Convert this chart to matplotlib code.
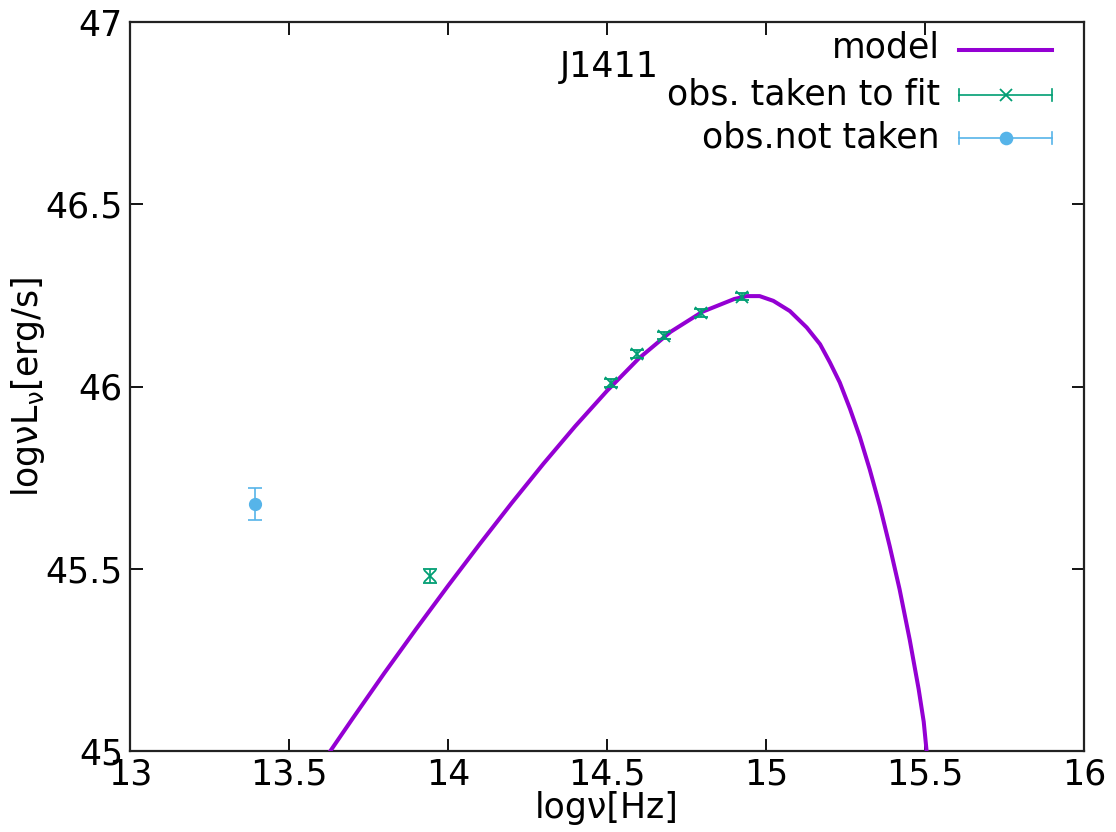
import matplotlib
matplotlib.use("Agg")
import matplotlib.pyplot as plt
from matplotlib.lines import Line2D

# Model curve
model_x = [13.63, 13.70, 13.80, 13.90, 14.00, 14.10, 14.20, 14.30, 14.40, 14.50,
           14.60, 14.70, 14.80, 14.90, 14.94, 14.98, 15.023, 15.075, 15.128, 15.170,
           15.201, 15.232, 15.264, 15.295, 15.326, 15.358, 15.389, 15.420, 15.452,
           15.480, 15.496, 15.505]
model_y = [45.000, 45.089, 45.214, 45.335, 45.453, 45.568, 45.680, 45.788, 45.891, 45.988,
           46.077, 46.150, 46.205, 46.240, 46.248, 46.248, 46.235, 46.207, 46.162, 46.116,
           46.066, 46.011, 45.939, 45.862, 45.773, 45.672, 45.562, 45.444, 45.305,
           45.170, 45.080, 45.000]

# Observations taken to fit
fit_x = [13.943, 14.513, 14.594, 14.679, 14.796, 14.925]
fit_y = [45.480, 46.010, 46.089, 46.139, 46.202, 46.246]
fit_err = [0.018, 0.010, 0.010, 0.010, 0.010, 0.010]

# Observations not taken
nt_x = [13.393]
nt_y = [45.678]
nt_err = [0.044]

purple = "#9400d3"
green = "#009e73"
blue = "#56b4e9"

plt.rcParams['font.family'] = ['DejaVu Sans']
plt.rcParams['mathtext.fontset'] = 'dejavusans'
FS = 25

fig = plt.figure(figsize=(11.16, 8.32), dpi=100)
ax = fig.add_axes([130/1116, 81/832, 954/1116, 729/832])

ax.plot(model_x, model_y, color=purple, lw=2.9, zorder=3, solid_joinstyle='round')
ax.errorbar(fit_x, fit_y, yerr=fit_err, fmt='x', color=green, ms=8, mew=1.3,
            elinewidth=1.2, capsize=5, capthick=1.2, zorder=4)
ax.errorbar(nt_x, nt_y, yerr=nt_err, fmt='o', color=blue, ms=8.5,
            elinewidth=1.2, capsize=5, capthick=1.2, zorder=4)

ax.set_xlim(13, 16)
ax.set_ylim(45, 47)
xt = [13, 13.5, 14, 14.5, 15, 15.5, 16]
yt = [45, 45.5, 46, 46.5, 47]
ax.set_xticks(xt)
ax.set_xticklabels([f"{v:g}" for v in xt])
ax.set_yticks(yt)
ax.set_yticklabels([f"{v:g}" for v in yt])
ax.tick_params(direction='in', length=9, width=1.3, top=True, right=True,
               labelsize=FS, pad=5, colors='black')
for s in ax.spines.values():
    s.set_linewidth(1.6)
    s.set_color('#222222')

ax.set_xlabel("logν[Hz]", fontsize=FS, labelpad=-1)
ax.set_ylabel(r"logνL$_\mathregular{ν}$[erg/s]", fontsize=FS, labelpad=-1)

ax.text(14.352, 46.877, "J1411", fontsize=FS, ha='left', va='center')

# manual gnuplot-style key
tr = ax.transAxes
def fx(px):
    return (px - 130) / 954
def fy(py):
    return (751 - py) / 729
rows = [("model", 48), ("obs. taken to fit", 95), ("obs.not taken", 138)]
for label, py in rows:
    ax.text(fx(940), fy(py), label, transform=tr, ha='right', va='center', fontsize=FS)
x0, x1, xm = fx(959), fx(1052), fx(1006)
ax.add_line(Line2D([x0, x1], [fy(50)] * 2, transform=tr, color=purple, lw=2.9))
for py, col, mk, ms in [(95, green, 'x', 8), (138, blue, 'o', 8.5)]:
    ax.add_line(Line2D([x0, x1], [fy(py)] * 2, transform=tr, color=col, lw=1.2))
    for xx in (x0, x1):
        ax.add_line(Line2D([xx, xx], [fy(py - 6), fy(py + 6)], transform=tr, color=col, lw=1.2))
    ax.add_line(Line2D([xm], [fy(py)], transform=tr, color=col, marker=mk, ms=ms,
                       mew=1.3, ls='none'))

fig.savefig("out.png", dpi=100)
